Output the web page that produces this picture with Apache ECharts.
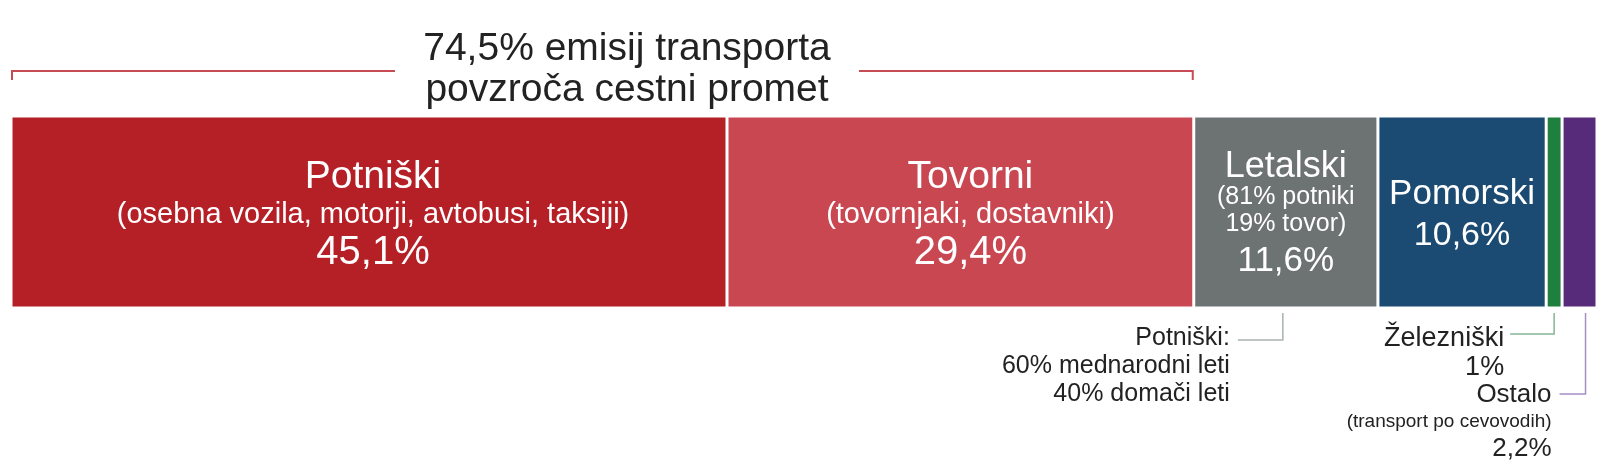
<!DOCTYPE html>
<html>
<head>
<meta charset="utf-8">
<script src="https://cdn.jsdelivr.net/npm/echarts@6/dist/echarts.min.js"></script>
<style>
html,body{margin:0;padding:0;background:#fff;}
#chart{width:1610px;height:470px;}
</style>
</head>
<body>
<div id="chart"></div>
<script>
// ---- data ----
const categories = ['Potniški', 'Tovorni', 'Letalski', 'Pomorski', 'Železniški', 'Ostalo'];
const shares = [45.1, 29.4, 11.6, 10.6, 1, 2.2];
const subtitles = ['(osebna vozila, motorji, avtobusi, taksiji)', '(tovornjaki, dostavniki)', '(81% potniki\n19% tovor)', '', '', ''];
const colors = ['#b51f26', '#c94751', '#6d7272', '#1b4b72', '#1f7f3e', '#582a7a'];
const roadShare = 74.5;
const titleLines = ['74,5% emisij transporta', 'povzroča cestni promet'];
const aviationNote = ['Potniški:', '60% mednarodni leti', '40% domači leti'];
const railNote = ['Železniški', '1%'];
const otherNote = ['Ostalo', '(transport po cevovodih)', '2,2%'];

const FONT = "'Liberation Sans', Arial, Helvetica, sans-serif";
const fmt = v => String(v).replace('.', ',') + '%';
const total = shares.reduce((a, b) => a + b, 0);

const labelStyles = [
  { name: 39, sub: 29, pct: 40, lh: [38, 38, 38], dx: 4, dy: 3 },
  { name: 39, sub: 29, pct: 40, lh: [38, 38, 38], dx: 10, dy: 3 },
  { name: 36, sub: 25, pct: 35, lh: [34, 27, 46], dx: 0, dy: 5 },
  { name: 35, sub: 24, pct: 34, lh: [40, 28, 44], dx: 0, dy: 4 }
];

const chart = echarts.init(document.getElementById('chart'), null, { renderer: 'canvas' });

const series = categories.map((c, i) => {
  const ls = labelStyles[i];
  return {
    name: c,
    type: 'bar',
    stack: 'all',
    barWidth: '100%',
    data: [shares[i]],
    itemStyle: { color: colors[i], borderColor: '#ffffff', borderWidth: 1.5 },
    silent: true,
    label: ls ? {
      show: true,
      position: 'inside',
      offset: [ls.dx, ls.dy],
      color: '#fff',
      fontFamily: FONT,
      formatter: () => {
        const parts = ['{n|' + c + '}'];
        if (subtitles[i]) subtitles[i].split('\n').forEach(s => parts.push('{s|' + s + '}'));
        parts.push('{p|' + fmt(shares[i]) + '}');
        return parts.join('\n');
      },
      rich: {
        n: { fontSize: ls.name, lineHeight: ls.lh[0], color: '#fff', fontFamily: FONT, align: 'center' },
        s: { fontSize: ls.sub, lineHeight: ls.lh[1], color: '#fff', fontFamily: FONT, align: 'center' },
        p: { fontSize: ls.pct, lineHeight: ls.lh[2], color: '#fff', fontFamily: FONT, align: 'center' }
      }
    } : { show: false }
  };
});

chart.setOption({
  animation: false,
  backgroundColor: '#fff',
  grid: { left: 11, right: 13, top: 116, height: 192 },
  xAxis: { type: 'value', min: 0, max: total, show: false },
  yAxis: { type: 'category', data: ['Promet'], show: false },
  series: series
});

// ---- annotations derived from axis scale ----
const px = v => chart.convertToPixel({ xAxisIndex: 0 }, v);
const cum = [];
shares.reduce((a, v, i) => { cum[i] = a; return a + v; }, 0);
const center = i => px(cum[i] + shares[i] / 2);
const barBottom = 116 + 192;
const x0 = px(0);
const xRoad = px(roadShare);

const titleX = 627;
const redLine = { stroke: '#c84a54', lineWidth: 2 };
const txt = (x, y, text, size, align, color) => ({
  type: 'text', x: x, y: y, silent: true,
  style: { text: text, fontSize: size, fontFamily: FONT, fill: color || '#222', align: align || 'right', verticalAlign: 'middle' }
});

const g = [];
// title + bracket
g.push(txt(titleX, 49, titleLines[0], 39, 'center'));
g.push(txt(titleX, 90, titleLines[1], 39, 'center'));
g.push({ type: 'polyline', silent: true, shape: { points: [[x0 + 1, 80], [x0 + 1, 71], [titleX - 232, 71]] }, style: Object.assign({ fill: null }, redLine) });
g.push({ type: 'polyline', silent: true, shape: { points: [[titleX + 232, 71], [xRoad - 1, 71], [xRoad - 1, 80]] }, style: Object.assign({ fill: null }, redLine) });

// aviation
const xa = center(2) - 3;
g.push({ type: 'polyline', silent: true, shape: { points: [[xa, barBottom + 5], [xa, barBottom + 32], [xa - 45, barBottom + 32]] }, style: { stroke: '#aab1b1', lineWidth: 1.5, fill: null } });
aviationNote.forEach((t, k) => g.push(txt(xa - 53, barBottom + 30 + k * 28, t, 25)));

// rail
const xr = center(4);
g.push({ type: 'polyline', silent: true, shape: { points: [[xr, barBottom + 5], [xr, barBottom + 26], [xr - 44, barBottom + 26]] }, style: { stroke: '#86b596', lineWidth: 1.5, fill: null } });
railNote.forEach((t, k) => g.push(txt(xr - 50, barBottom + 31 + k * 29, t, 27)));

// other
const xo = center(5) + 6;
g.push({ type: 'polyline', silent: true, shape: { points: [[xo, barBottom + 5], [xo, barBottom + 86], [xo - 26, barBottom + 86]] }, style: { stroke: '#a58fc2', lineWidth: 1.5, fill: null } });
g.push(txt(xo - 34, barBottom + 87, otherNote[0], 26));
g.push(txt(xo - 34, barBottom + 114, otherNote[1], 19));
g.push(txt(xo - 34, barBottom + 141, otherNote[2], 26));

chart.setOption({ graphic: g });
</script>
</body>
</html>
